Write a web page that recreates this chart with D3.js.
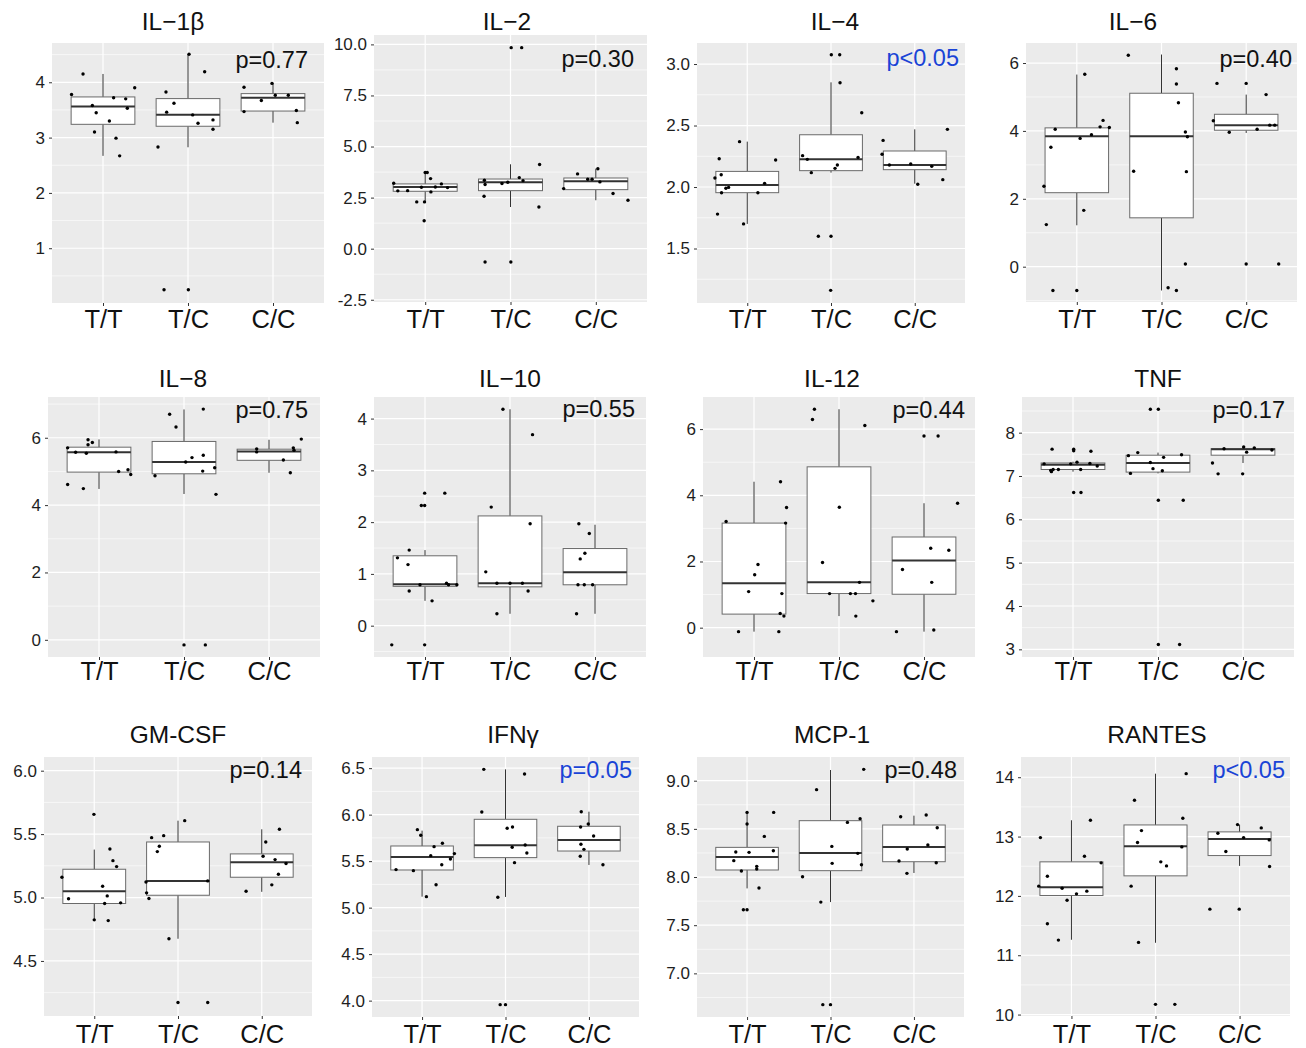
<!DOCTYPE html>
<html>
<head>
<meta charset="utf-8">
<script src="https://cdn.jsdelivr.net/npm/d3@7"></script>
<style>
  body { margin: 0; background: #fff; }
  svg { display: block; font-family: "Liberation Sans", Arial, sans-serif; }
</style>
</head>
<body>
<svg id="chart" width="1306" height="1048"></svg>
<script>
const genotypes = ["T/T", "T/C", "C/C"];

const cytokines = ["IL\u22121\u03b2", "IL\u22122", "IL\u22124", "IL\u22126", "IL\u22128", "IL\u221210",
  "IL-12", "TNF", "GM-CSF", "IFN\u03b3", "MCP-1", "RANTES"];
const pLabels = ["p=0.77", "p=0.30", "p<0.05", "p=0.40", "p=0.75", "p=0.55",
  "p=0.44", "p=0.17", "p=0.14", "p=0.05", "p=0.48", "p<0.05"];
const pSignificant = [false, false, true, false, false, false, false, false, false, true, false, true];

// y-axis limits and tick labels per panel
const yLimits = [[0.01, 4.71], [-2.61, 10.46], [1.057, 3.171], [-1.04, 6.59], [-0.51, 7.21], [-0.605, 4.417],
  [-0.886, 6.97], [2.823, 8.823], [4.066, 6.108], [3.824, 6.62], [6.547, 9.246], [9.976, 14.341]];
const yTicks = [[1, 2, 3, 4], [-2.5, 0, 2.5, 5, 7.5, 10], [1.5, 2, 2.5, 3], [0, 2, 4, 6], [0, 2, 4, 6],
  [0, 1, 2, 3, 4], [0, 2, 4, 6], [3, 4, 5, 6, 7, 8], [4.5, 5, 5.5, 6], [4, 4.5, 5, 5.5, 6, 6.5],
  [7, 7.5, 8, 8.5, 9], [10, 11, 12, 13, 14]];
const yDecimals = [0, 1, 1, 0, 0, 0, 0, 0, 1, 1, 1, 0];

// box stats per genotype: [lower whisker, q1, median, q3, upper whisker]
const il1bBox = [[2.67, 3.24, 3.56, 3.735, 4.15], [2.825, 3.205, 3.415, 3.705, 4.506], [3.27, 3.48, 3.72, 3.795, 3.99]];
const il2Box = [[2.29, 2.81, 3.02, 3.17, 3.69], [2.04, 2.84, 3.25, 3.41, 4.13], [2.37, 2.89, 3.30, 3.46, 3.92]];
const il4Box = [[1.70, 1.954, 2.016, 2.127, 2.369], [2.117, 2.133, 2.225, 2.425, 2.851], [2.027, 2.141, 2.179, 2.293, 2.469]];
const il6Box = [[1.22, 2.18, 3.84, 4.09, 5.66], [-0.70, 1.44, 3.84, 5.11, 6.25], [3.94, 4.02, 4.17, 4.49, 5.07]];
const il8Box = [[4.48, 4.98, 5.57, 5.72, 5.95], [4.33, 4.93, 5.28, 5.89, 6.84], [4.96, 5.33, 5.59, 5.66, 5.94]];
const il10Box = [[0.48, 0.76, 0.80, 1.35, 1.46], [0.23, 0.75, 0.82, 2.12, 4.18], [0.23, 0.79, 1.03, 1.49, 1.95]];
const il12Box = [[-0.12, 0.41, 1.34, 3.16, 4.41], [0.35, 1.03, 1.37, 4.86, 6.60], [-0.12, 1.01, 2.03, 2.74, 3.76]];
const tnfBox = [[7.10, 7.15, 7.26, 7.30, 7.33], [7.06, 7.09, 7.30, 7.48, 7.54], [7.30, 7.48, 7.62, 7.63, 7.67]];
const gmcsfBox = [[4.824, 4.953, 5.05, 5.223, 5.378], [4.675, 5.018, 5.131, 5.438, 5.606], [5.045, 5.16, 5.278, 5.344, 5.538]];
const ifngBox = [[5.118, 5.405, 5.545, 5.663, 5.828], [5.115, 5.538, 5.670, 5.95, 6.487], [5.459, 5.609, 5.728, 5.875, 6.032]];
const mcp1Box = [[7.882, 8.073, 8.208, 8.308, 8.671], [7.74, 8.066, 8.249, 8.585, 9.111], [8.042, 8.159, 8.311, 8.54, 8.637]];
const rantesBox = [[11.261, 12.007, 12.147, 12.574, 13.275], [11.21, 12.338, 12.837, 13.196, 14.06], [12.506, 12.68, 12.961, 13.079, 13.2]];

// jittered observations per genotype: [jitter (category units), value]
const il1bPts = [
  [[-0.37, 3.78], [-0.235, 4.15], [-0.125, 3.58], [-0.08, 3.45], [-0.10, 3.10], [0.075, 3.30], [0.125, 3.72], [0.153, 2.99], [0.196, 2.67], [0.267, 3.70], [0.286, 3.53], [0.373, 3.90]],
  [[-0.353, 2.83], [-0.282, 0.25], [-0.259, 3.825], [-0.251, 3.46], [-0.165, 3.62], [0.012, 4.506], [0.004, 0.25], [0.055, 3.41], [0.118, 3.26], [0.196, 4.19], [0.294, 3.32], [0.294, 3.15]],
  [[-0.341, 3.91], [-0.341, 3.47], [-0.137, 3.67], [-0.012, 3.98], [0.027, 3.765], [0.18, 3.765], [0.275, 3.49], [0.286, 3.27]]
];
const il2Pts = [
  [[-0.369, 3.20], [-0.321, 2.83], [-0.206, 2.84], [-0.099, 2.29], [-0.008, 2.29], [-0.012, 1.37], [-0.044, 3.01], [0, 3.73], [0.024, 3.73], [0.063, 3.43], [0.067, 2.78], [0.119, 3.02], [0.19, 3.17], [0.262, 2.99]],
  [[-0.31, 2.57], [-0.306, 3.35], [-0.298, 3.14], [-0.298, -0.65], [-0.1, 3.19], [-0.032, 3.25], [0.004, -0.65], [0.008, 9.84], [0.131, 9.84], [0.103, 3.48], [0.147, 3.33], [0.333, 2.04], [0.341, 4.12]],
  [[-0.377, 2.94], [-0.214, 3.66], [-0.095, 3.40], [-0.044, 3.40], [0.024, 3.91], [0.048, 3.27], [0.202, 2.70], [0.377, 2.37]]
];
const il4Pts = [
  [[-0.386, 2.073], [-0.335, 2.23], [-0.311, 2.10], [-0.355, 1.78], [-0.307, 1.954], [-0.255, 1.99], [-0.223, 1.997], [-0.092, 2.369], [-0.044, 1.70], [0.127, 1.954], [0.207, 2.03], [0.339, 2.22]],
  [[-0.339, 2.255], [-0.283, 2.225], [-0.235, 2.117], [-0.151, 1.60], [0, 1.60], [-0.004, 1.16], [0.004, 3.076], [0.104, 3.076], [0.108, 2.848], [0.048, 2.152], [0.076, 2.179], [0.323, 2.241], [0.367, 2.604]],
  [[-0.39, 2.266], [-0.378, 2.379], [-0.303, 2.179], [-0.048, 2.187], [0.036, 2.022], [0.203, 2.168], [0.335, 2.06], [0.39, 2.469]]
];
const il6Pts = [
  [[-0.388, 2.37], [-0.36, 1.24], [-0.306, 3.52], [-0.282, -0.70], [-0.255, 4.05], [0, -0.70], [0.039, 3.78], [0.082, 1.66], [0.094, 5.67], [0.173, 3.89], [0.275, 4.12], [0.31, 4.31], [0.384, 4.10]],
  [[-0.392, 6.23], [-0.329, 2.81], [0.078, -0.62], [0.176, -0.70], [0.176, 5.83], [0.176, 5.38], [0.2, 4.83], [0.282, 3.97], [0.306, 3.83], [0.294, 2.80], [0.282, 0.08]],
  [[-0.388, 4.30], [-0.345, 5.40], [-0.2, 3.96], [0, 5.40], [0, 0.08], [0.129, 4.05], [0.235, 5.07], [0.278, 4.17], [0.337, 4.17], [0.384, 0.08]]
];
const il8Pts = [
  [[-0.369, 5.70], [-0.369, 4.61], [-0.275, 5.57], [-0.184, 4.49], [-0.149, 5.54], [-0.129, 5.94], [-0.129, 5.79], [-0.078, 5.86], [0.2, 5.58], [0.231, 5.0], [0.341, 5.05], [0.373, 4.91]],
  [[-0.341, 4.87], [-0.169, 6.70], [-0.094, 6.32], [0, -0.15], [0.02, 5.28], [0.094, 5.41], [0.227, 5.48], [0.22, 5.01], [0.227, 6.85], [0.251, -0.15], [0.361, 5.11], [0.376, 4.32]],
  [[-0.145, 5.67], [-0.145, 5.58], [0.169, 5.34], [0.251, 4.96], [0.286, 5.70], [0.294, 5.63], [0.38, 5.96]]
];
const il10Pts = [
  [[-0.391, -0.37], [-0.324, 1.31], [-0.2, 1.18], [-0.186, 1.46], [-0.186, 0.67], [-0.059, 0.79], [-0.043, 2.32], [-0.004, 2.32], [-0.004, 2.56], [-0.004, -0.37], [0.083, 0.48], [0.233, 2.56], [0.253, 0.82], [0.277, 0.79], [0.375, 0.79]],
  [[-0.285, 1.04], [-0.221, 2.29], [-0.154, 0.82], [-0.154, 0.23], [-0.083, 4.18], [0, 0.82], [0.146, 0.82], [0.213, 0.67], [0.237, 1.97], [0.265, 3.69]],
  [[-0.217, 0.23], [-0.2, 0.79], [-0.19, 1.97], [-0.174, 1.29], [-0.126, 0.79], [-0.119, 1.40], [-0.067, 1.78], [-0.028, 0.79]]
];
const il12Pts = [
  [[-0.328, 3.21], [-0.182, -0.12], [-0.063, 1.09], [0.008, 1.60], [0.047, 1.91], [0.292, -0.12], [0.312, 4.41], [0.308, 0.43], [0.328, 1.03], [0.352, 0.35], [0.372, 3.16], [0.383, 3.63]],
  [[-0.312, 6.29], [-0.289, 6.60], [-0.194, 1.97], [-0.111, 1.03], [0.004, 3.64], [0.134, 1.03], [0.194, 1.03], [0.198, 0.35], [0.241, 1.37], [0.304, 6.11], [0.399, 0.81]],
  [[-0.324, -0.12], [-0.253, 1.76], [0, 5.79], [0.079, 2.40], [0.091, 1.37], [0.115, -0.07], [0.166, 5.79], [0.292, 2.34], [0.395, 3.76]]
];
const tnfPts = [
  [[-0.34, 7.28], [-0.246, 7.62], [-0.262, 7.13], [-0.254, 7.10], [-0.234, 7.15], [-0.172, 7.15], [-0.027, 7.28], [0.008, 7.62], [0.008, 7.58], [0.008, 6.62], [0.047, 7.32], [0.09, 7.15], [0.094, 6.62], [0.211, 7.57], [0.199, 7.29], [0.285, 7.23]],
  [[-0.348, 7.47], [-0.324, 7.06], [-0.238, 7.54], [-0.09, 7.31], [-0.09, 8.54], [-0.059, 7.17], [0.004, 8.54], [0.004, 6.44], [0.004, 3.11], [0.051, 7.12], [0.066, 7.43], [0.254, 3.11], [0.277, 7.49], [0.297, 6.44]],
  [[-0.359, 7.30], [-0.293, 7.05], [-0.223, 7.63], [-0.004, 7.05], [0.008, 7.67], [0.043, 7.55], [0.133, 7.65], [0.34, 7.60]]
];
const gmcsfPts = [
  [[-0.386, 5.16], [-0.307, 4.99], [-0.004, 5.656], [0, 4.824], [0.1, 5.089], [0.124, 4.953], [0.155, 5.013], [0.167, 4.818], [0.187, 5.383], [0.223, 5.291], [0.267, 5.244], [0.315, 4.958]],
  [[-0.382, 5.123], [-0.375, 5.037], [-0.347, 4.992], [-0.315, 5.472], [-0.247, 5.362], [-0.223, 5.404], [-0.171, 5.488], [-0.108, 4.675], [0, 4.173], [0.08, 5.606], [0.355, 4.173], [0.355, 5.131]],
  [[-0.187, 5.05], [0.016, 5.325], [0.048, 5.438], [0.12, 5.10], [0.159, 5.299], [0.199, 5.184], [0.211, 5.538], [0.29, 5.268]]
];
const ifngPts = [
  [[-0.312, 5.409], [-0.104, 5.398], [-0.056, 5.839], [-0.016, 5.778], [0.052, 5.118], [0.104, 5.559], [0.144, 5.656], [0.168, 5.247], [0.236, 5.462], [0.244, 5.692], [0.34, 5.523], [0.388, 5.581]],
  [[-0.284, 6.029], [-0.26, 6.487], [-0.092, 5.111], [-0.064, 3.957], [0, 3.957], [0.02, 5.853], [0.084, 5.867], [0.08, 5.649], [0.108, 5.484], [0.228, 6.437], [0.236, 5.674], [0.256, 5.588]],
  [[-0.104, 5.552], [-0.1, 5.867], [-0.096, 5.681], [-0.092, 6.032], [-0.06, 5.627], [-0.008, 5.9], [0.056, 5.771], [0.168, 5.462]]
];
const mcp1Pts = [
  [[-0.159, 8.17], [-0.135, 8.26], [-0.068, 8.062], [-0.044, 7.661], [0, 7.661], [0, 8.671], [0, 8.55], [0.024, 8.256], [0.116, 8.111], [0.116, 8.083], [0.143, 7.886], [0.207, 8.422], [0.315, 8.273], [0.319, 8.671]],
  [[-0.335, 8.003], [-0.167, 8.907], [-0.116, 7.74], [-0.092, 6.675], [0, 6.675], [0.016, 8.318], [0.02, 8.142], [0.203, 8.567], [0.327, 8.246], [0.355, 8.606], [0.371, 8.128], [0.398, 9.118]],
  [[-0.179, 8.166], [-0.159, 8.626], [-0.084, 8.038], [-0.08, 8.291], [0.147, 8.644], [0.167, 8.332], [0.267, 8.149], [0.279, 8.512]]
];
const rantesPts = [
  [[-0.389, 12.164], [-0.369, 12.983], [-0.286, 12.332], [-0.286, 11.53], [-0.155, 11.255], [-0.111, 12.13], [-0.052, 11.928], [0.06, 12.035], [0.155, 12.669], [0.183, 12.08], [0.226, 13.275], [0.353, 12.557]],
  [[-0.29, 12.164], [-0.25, 13.611], [-0.214, 12.899], [-0.202, 11.216], [-0.167, 13.101], [0, 10.172], [0.063, 12.574], [0.131, 12.506], [0.23, 10.172], [0.313, 12.826], [0.325, 13.309], [0.365, 14.06]],
  [[-0.353, 11.777], [-0.258, 13.056], [-0.163, 12.748], [-0.024, 13.202], [-0.004, 11.777], [0.048, 12.983], [0.258, 13.146], [0.353, 12.944], [0.357, 12.495]]
];

const boxes = [il1bBox, il2Box, il4Box, il6Box, il8Box, il10Box, il12Box, tnfBox, gmcsfBox, ifngBox, mcp1Box, rantesBox];
const points = [il1bPts, il2Pts, il4Pts, il6Pts, il8Pts, il10Pts, il12Pts, tnfPts, gmcsfPts, ifngPts, mcp1Pts, rantesPts];

// panel placement: [left, top, right, bottom]
const panelRects = [
  [52, 43, 324, 303], [374, 35, 647, 302], [697, 43, 965, 303], [1026, 43, 1297, 302],
  [48, 397, 320, 657], [374, 397, 646, 657], [703, 397, 975, 657], [1022, 397, 1294, 657],
  [44, 757, 312, 1016], [372, 757, 639, 1017], [697, 757, 964, 1017], [1021, 757, 1290, 1016]
];
const titleX = [173, 507, 835, 1133, 183, 510, 832, 1158, 178, 513, 832, 1157];
const pLabelX = [308, 634, 959, 1292, 308, 635, 965, 1285, 302, 632, 957, 1285];
const pLabelY = [68, 67, 66, 67, 418, 417, 418, 418, 778, 778, 778, 778];
const rowTitleY = [30, 387, 743];
const rowXLabelY = [328, 680, 1043];

const svg = d3.select("#chart");

function drawPanel(i) {
  const [l, t, r, b] = panelRects[i];
  const row = Math.floor(i / 4);

  const x = d3.scalePoint().domain(genotypes).range([l, r]).padding(0.6);
  const y = d3.scaleLinear().domain(yLimits[i]).range([b, t]);
  const step = x.step();
  const g = svg.append("g");

  // background
  g.append("rect")
    .attr("x", l).attr("y", t)
    .attr("width", r - l).attr("height", b - t)
    .attr("fill", "#EBEBEB");

  // minor grid lines
  const ticks = yTicks[i];
  const tStep = ticks[1] - ticks[0];
  const minor = [];
  for (let v = ticks[0] - tStep / 2; v <= yLimits[i][1]; v += tStep) {
    if (v >= yLimits[i][0]) minor.push(v);
  }
  g.selectAll(".minor")
    .data(minor)
    .enter().append("line")
    .attr("x1", l).attr("x2", r)
    .attr("y1", d => y(d)).attr("y2", d => y(d))
    .attr("stroke", "#fff")
    .attr("stroke-width", 0.6);

  // major grid lines
  g.selectAll(".major-y")
    .data(ticks)
    .enter().append("line")
    .attr("x1", l).attr("x2", r)
    .attr("y1", d => y(d)).attr("y2", d => y(d))
    .attr("stroke", "#fff")
    .attr("stroke-width", 1.2);

  g.selectAll(".major-x")
    .data(genotypes)
    .enter().append("line")
    .attr("x1", d => x(d)).attr("x2", d => x(d))
    .attr("y1", t).attr("y2", b)
    .attr("stroke", "#fff")
    .attr("stroke-width", 1.2);

  // boxplots
  const boxW = step * 0.75;
  const bx = g.selectAll(".box")
    .data(boxes[i])
    .enter().append("g");

  bx.append("line")
    .attr("x1", (d, k) => x(genotypes[k])).attr("x2", (d, k) => x(genotypes[k]))
    .attr("y1", d => y(d[3])).attr("y2", d => y(d[4]))
    .attr("stroke", "#333").attr("stroke-width", 1);
  bx.append("line")
    .attr("x1", (d, k) => x(genotypes[k])).attr("x2", (d, k) => x(genotypes[k]))
    .attr("y1", d => y(d[0])).attr("y2", d => y(d[1]))
    .attr("stroke", "#333").attr("stroke-width", 1);
  bx.append("rect")
    .attr("x", (d, k) => x(genotypes[k]) - boxW / 2)
    .attr("width", boxW)
    .attr("y", d => y(d[3]))
    .attr("height", d => y(d[1]) - y(d[3]))
    .attr("fill", "#fff")
    .attr("stroke", "#6a6a6a")
    .attr("stroke-width", 1);
  bx.append("line")
    .attr("x1", (d, k) => x(genotypes[k]) - boxW / 2)
    .attr("x2", (d, k) => x(genotypes[k]) + boxW / 2)
    .attr("y1", d => y(d[2])).attr("y2", d => y(d[2]))
    .attr("stroke", "#333").attr("stroke-width", 2);

  // jittered points
  points[i].forEach((grp, k) => {
    g.selectAll(".pt" + k)
      .data(grp)
      .enter().append("circle")
      .attr("cx", d => x(genotypes[k]) + d[0] * step)
      .attr("cy", d => y(d[1]))
      .attr("r", 1.7)
      .attr("fill", "#000");
  });

  // y axis (plain hyphen for negatives, as in the original)
  const fmt = d => d.toFixed(yDecimals[i]);
  const yAxis = g.append("g")
    .attr("transform", `translate(${l},0)`)
    .call(d3.axisLeft(y).tickValues(ticks).tickSize(3).tickPadding(4).tickFormat(fmt));
  yAxis.select(".domain").remove();
  yAxis.selectAll(".tick line").attr("stroke", "#333");
  yAxis.selectAll(".tick text")
    .attr("fill", "#1e1e1e")
    .style("font-size", "17px")
    .style("font-family", "'Liberation Sans', Arial, sans-serif");

  // x axis
  const xAxis = g.append("g")
    .attr("transform", `translate(0,${b})`)
    .call(d3.axisBottom(x).tickSize(3).tickPadding(4));
  xAxis.select(".domain").remove();
  xAxis.selectAll(".tick line").attr("stroke", "#333");
  xAxis.selectAll(".tick text")
    .attr("y", rowXLabelY[row] - b)
    .attr("dy", null)
    .attr("fill", "#111")
    .style("font-size", "25.5px")
    .style("font-family", "'Liberation Sans', Arial, sans-serif");

  // title
  g.append("text")
    .attr("x", titleX[i])
    .attr("y", rowTitleY[row])
    .attr("text-anchor", "middle")
    .attr("fill", "#111")
    .style("font-size", "24.5px")
    .text(cytokines[i]);

  // p value
  g.append("text")
    .attr("x", pLabelX[i])
    .attr("y", pLabelY[i])
    .attr("text-anchor", "end")
    .attr("fill", pSignificant[i] ? "#1a44d6" : "#111")
    .style("font-size", "23.5px")
    .text(pLabels[i]);
}

cytokines.forEach((c, i) => drawPanel(i));
</script>
</body>
</html>
